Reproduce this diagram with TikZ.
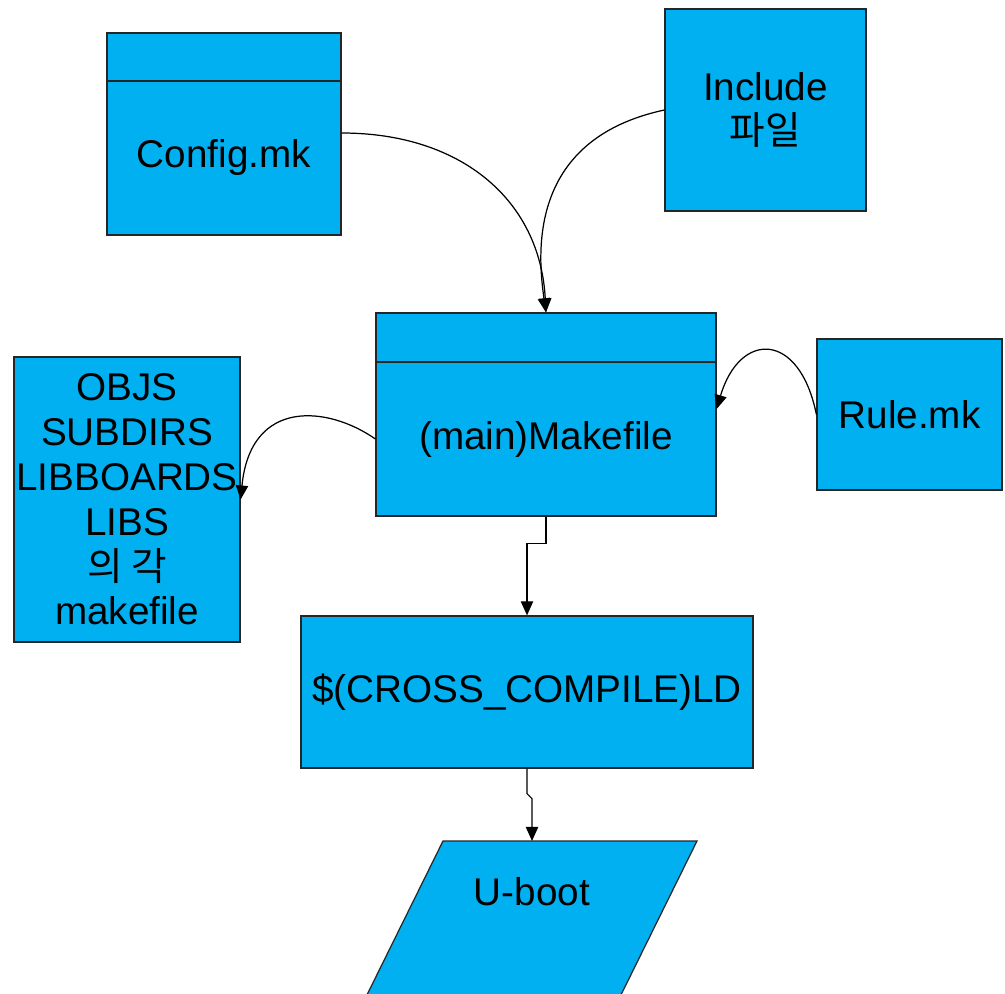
\documentclass[tikz,border=0pt]{standalone}
\usepackage{fontspec}
\setmainfont{Liberation Sans}
\newfontfamily\kr{Noto Sans CJK KR}
\usepackage{tikz}
\usetikzlibrary{arrows.meta}
\definecolor{boxblue}{RGB}{0,176,240}

\begin{document}
\begin{tikzpicture}
[
bluebox/.style={rectangle, draw=black!85, fill=boxblue, line width=0.7pt, inner sep=0pt, align=center, font=\fontsize{22}{25.5}\selectfont},
linkarrow/.style={draw=black, line width=0.7pt, -{Triangle[length=8pt,width=7pt]}},
]
\useasboundingbox (0,0) rectangle (20.1,-19.86);

%config
\node at (4.48,-1.14) [bluebox, minimum width=4.68cm, minimum height=0.96cm] (confighead) {};
\node at (4.48,-3.16) [bluebox, minimum width=4.68cm, minimum height=3.08cm] (config) {Config.mk};

%include
\node at (15.31,-2.2) [bluebox, minimum width=4.02cm, minimum height=4.04cm] (include) {Include\\{\kr 파일}};

%main makefile
\node at (10.92,-6.75) [bluebox, minimum width=6.8cm, minimum height=0.98cm] (makehead) {};
\node at (10.92,-8.78) [bluebox, minimum width=6.8cm, minimum height=3.08cm] (make) {(main)Makefile};

%rule
\node at (18.19,-8.29) [bluebox, minimum width=3.7cm, minimum height=3.02cm] (rule) {Rule.mk};

%objs
\node at (2.54,-9.99) [bluebox, minimum width=4.52cm, minimum height=5.7cm] (objs) {OBJS\\SUBDIRS\\LIBBOARDS\\LIBS\\{\kr 의 각}\\makefile};

%ld
\node at (10.54,-13.84) [bluebox, minimum width=9.04cm, minimum height=3.04cm] (cross) {\$(CROSS\_COMPILE)LD};

%u-boot
\filldraw[draw=black!85, fill=boxblue, line width=0.7pt] (8.86,-16.82) -- (13.94,-16.82) -- (12.27,-20.2) -- (7.19,-20.2) -- cycle;
\coordinate (ubootTop) at (10.64,-16.82);
\node at (10.64,-17.84) [font=\fontsize{22}{25.5}\selectfont] (uboot) {U-boot};

%connectors
\draw[linkarrow] ([yshift=0.5cm]config.east) .. controls +(2.4,0) and +(-0.12,2.24) .. (makehead.north);
\draw[linkarrow] (include.west) .. controls +(-2.7,-0.58) and +(-0.18,1.24) .. (makehead.north);
\draw[linkarrow] (make.west) .. controls +(-0.94,0.66) and +(0.2,2.04) .. (objs.east);
\draw[linkarrow] (rule.west) .. controls +(-0.34,1.68) and +(0.46,1.56) .. ([yshift=0.6cm]make.east);
\draw[linkarrow] (make.south) -- +(0,-0.54) -| (cross.north);
\draw[linkarrow] (cross.south) -- ++(0,-0.5) -- ++(0.1,-0.1) -- (ubootTop);

\end{tikzpicture}
\end{document}
